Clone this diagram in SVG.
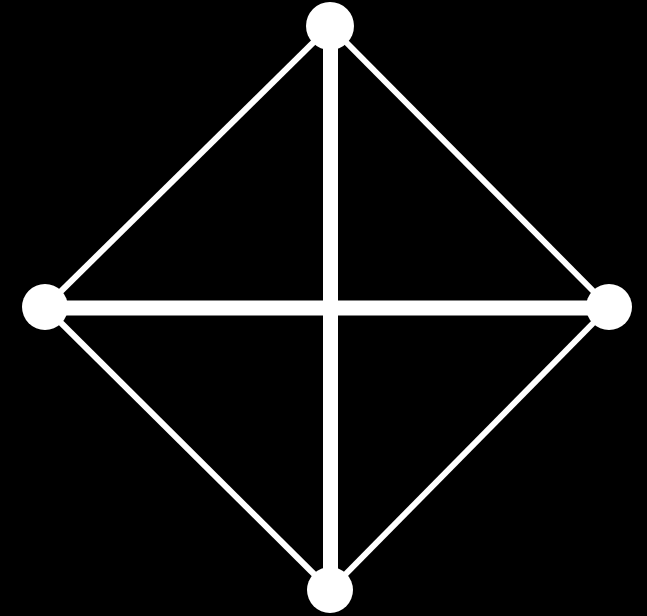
<svg xmlns="http://www.w3.org/2000/svg" width="647" height="616" viewBox="0 0 647 616">
<style>
.edge{stroke:#fff;stroke-width:6;fill:none}
.axis{stroke:#fff;stroke-width:15;fill:none}
.node{fill:#fff}
</style>
<rect width="647" height="616" fill="#000"/>
<g id="connectors">
<line class="edge" x1="330" y1="26" x2="45" y2="307"/>
<line class="edge" x1="330" y1="26" x2="609" y2="307"/>
<line class="edge" x1="45" y1="307" x2="330" y2="590"/>
<line class="edge" x1="609" y1="307" x2="330" y2="590"/>
<line class="axis" x1="45" y1="308" x2="609" y2="308"/>
<line class="axis" x1="330.5" y1="26" x2="330.5" y2="590"/>
</g>
<g id="n-top"><circle class="node" cx="330" cy="26" r="24"/></g>
<g id="n-left"><circle class="node" cx="45" cy="307" r="23"/></g>
<g id="n-right"><circle class="node" cx="609" cy="307" r="23"/></g>
<g id="n-bottom"><circle class="node" cx="330" cy="590" r="23"/></g>
</svg>
